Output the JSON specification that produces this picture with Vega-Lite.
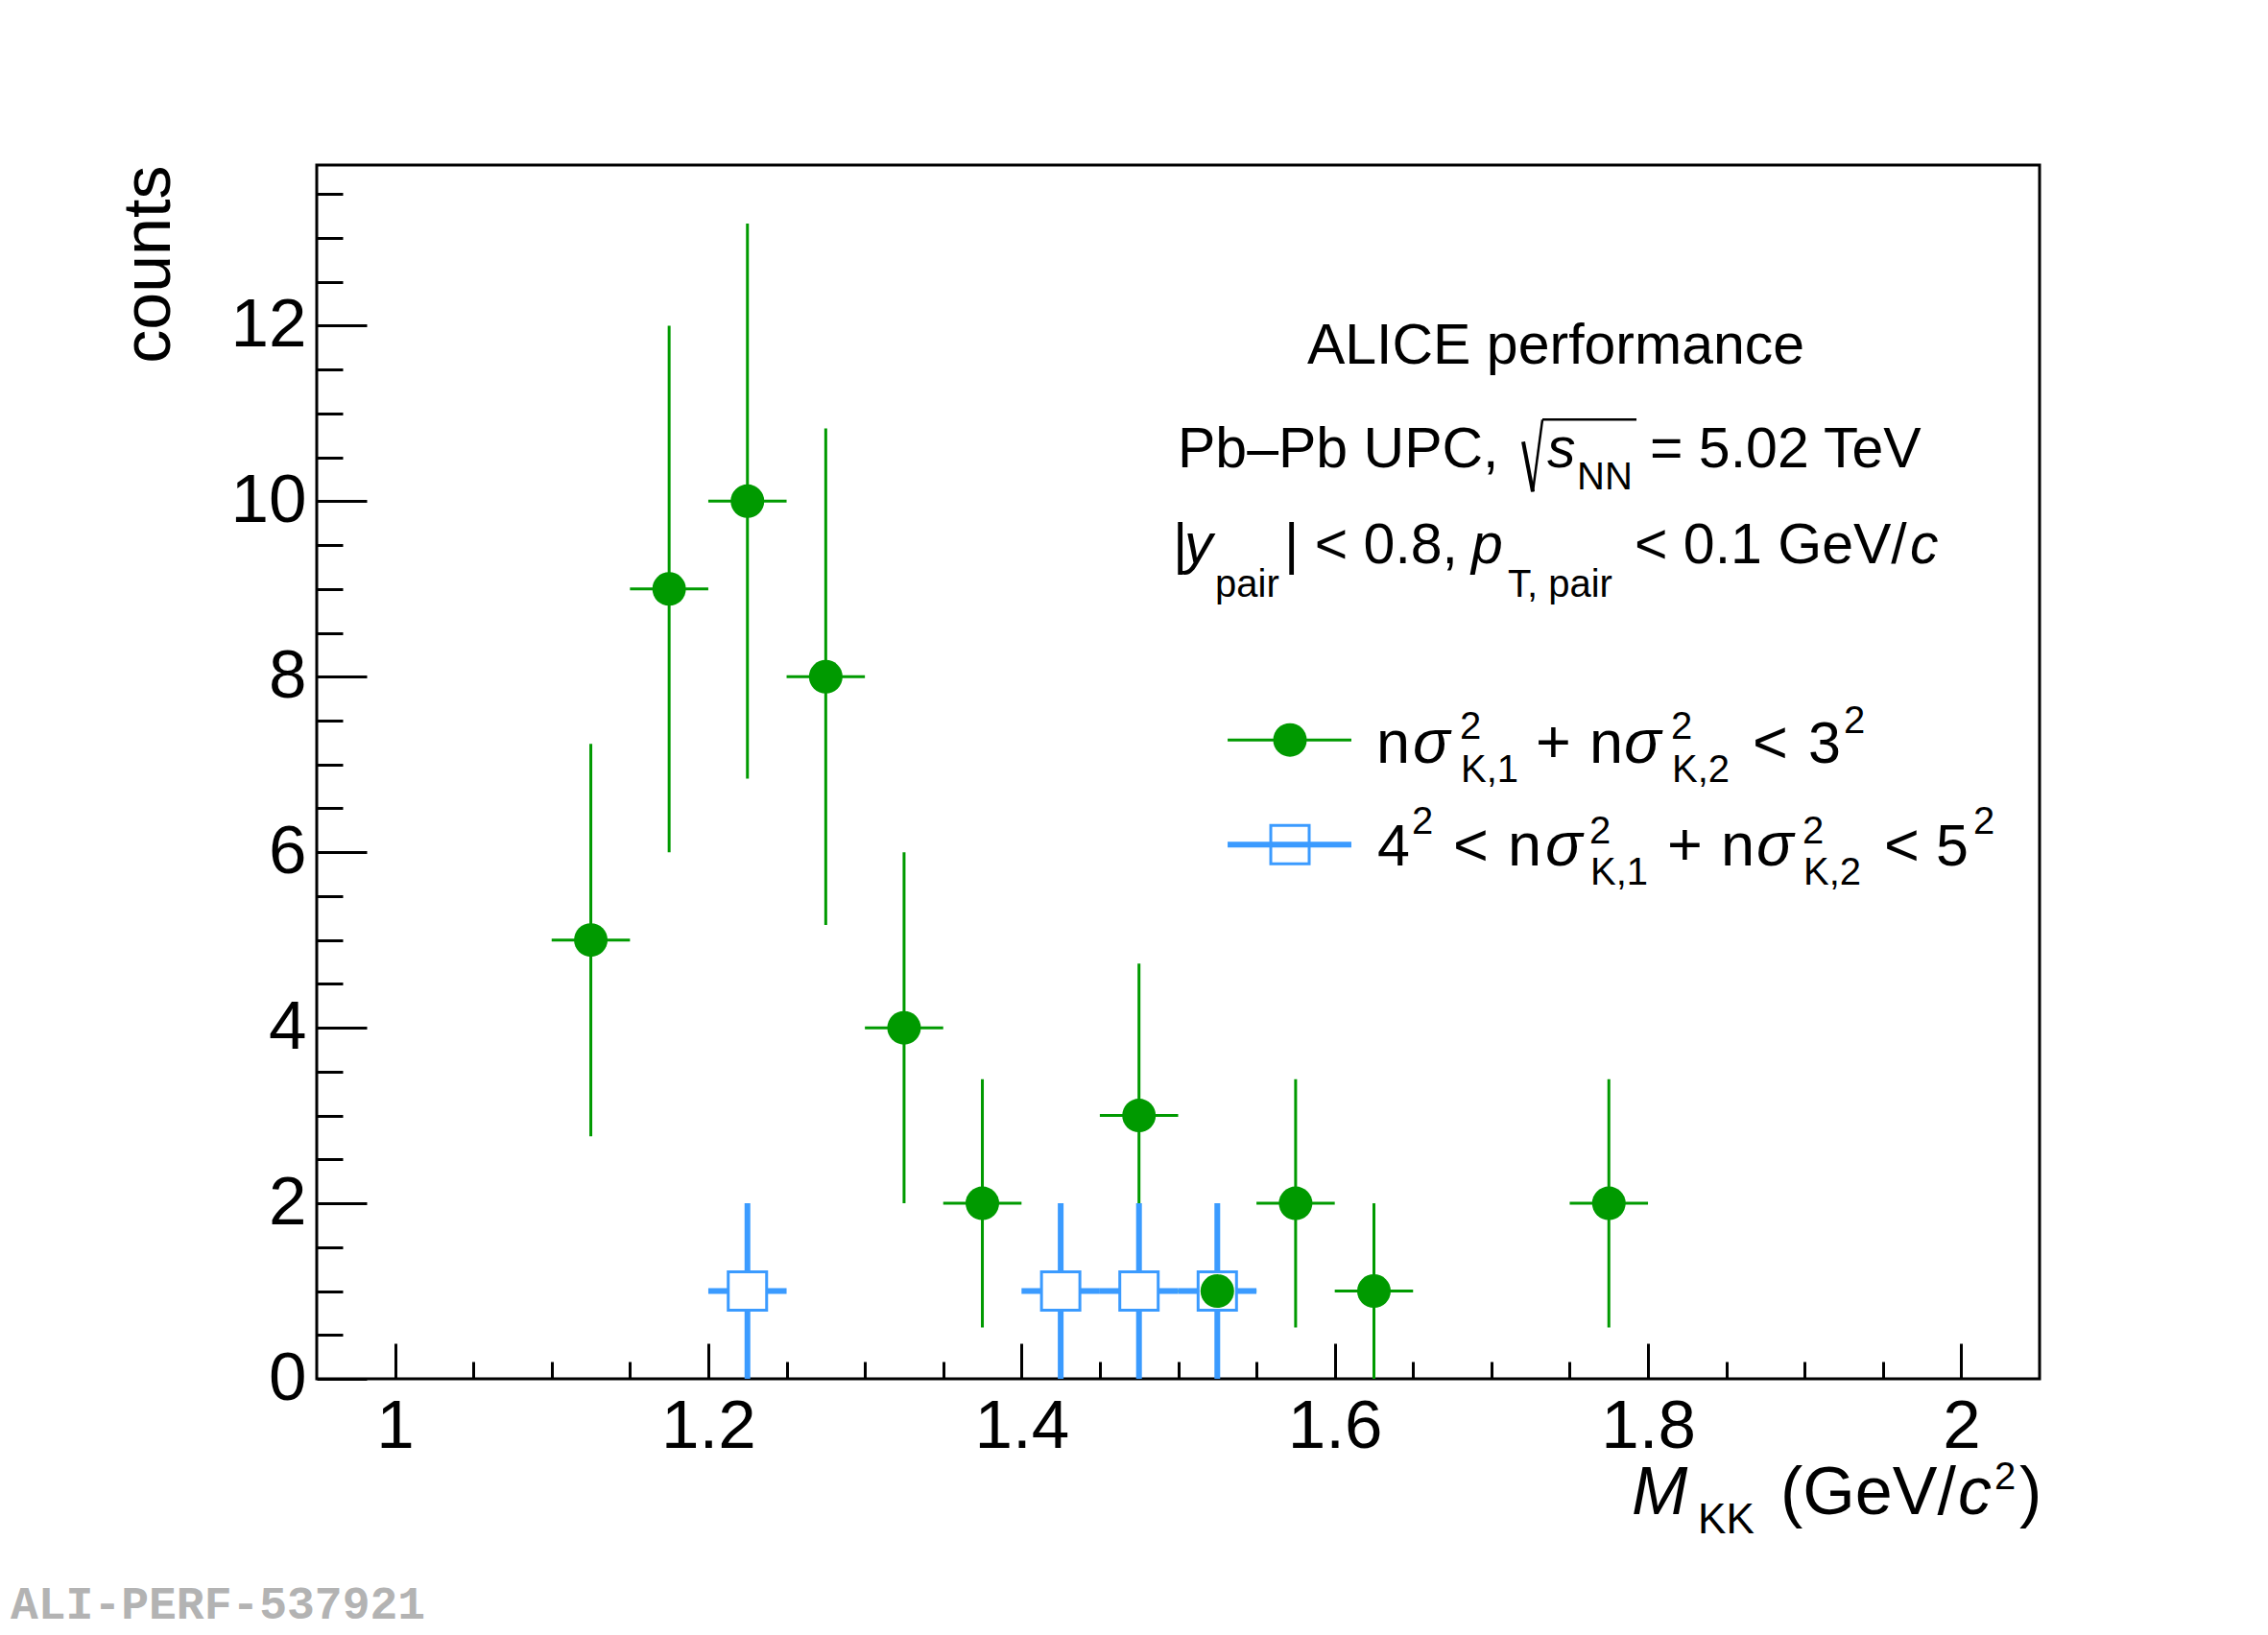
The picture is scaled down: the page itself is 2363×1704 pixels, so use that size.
{
  "$schema": "https://vega.github.io/schema/vega-lite/v6.json",
  "autosize": {"type": "none"},
  "width": 1795,
  "height": 1265,
  "padding": {"left": 330, "top": 172, "right": 238, "bottom": 267},
  "background": "white",
  "config": {"view": {"stroke": "black", "strokeWidth": 3}},
  "data": {"values": [{}]},
  "datasets": {
    "green": [
      {"m": 1.125, "mlo": 1.10, "mhi": 1.15, "count": 5, "lo": 2.764, "hi": 7.236},
      {"m": 1.175, "mlo": 1.15, "mhi": 1.20, "count": 9, "lo": 6.0, "hi": 12.0},
      {"m": 1.225, "mlo": 1.20, "mhi": 1.25, "count": 10, "lo": 6.838, "hi": 13.162},
      {"m": 1.275, "mlo": 1.25, "mhi": 1.30, "count": 8, "lo": 5.172, "hi": 10.828},
      {"m": 1.325, "mlo": 1.30, "mhi": 1.35, "count": 4, "lo": 2.0, "hi": 6.0},
      {"m": 1.375, "mlo": 1.35, "mhi": 1.40, "count": 2, "lo": 0.586, "hi": 3.414},
      {"m": 1.475, "mlo": 1.45, "mhi": 1.50, "count": 3, "lo": 1.268, "hi": 4.732},
      {"m": 1.525, "mlo": 1.50, "mhi": 1.55, "count": 1, "lo": 0.0, "hi": 2.0},
      {"m": 1.575, "mlo": 1.55, "mhi": 1.60, "count": 2, "lo": 0.586, "hi": 3.414},
      {"m": 1.625, "mlo": 1.60, "mhi": 1.65, "count": 1, "lo": 0.0, "hi": 2.0},
      {"m": 1.775, "mlo": 1.75, "mhi": 1.80, "count": 2, "lo": 0.586, "hi": 3.414}
    ],
    "blue": [
      {"m": 1.225, "mlo": 1.20, "mhi": 1.25, "count": 1, "lo": 0.0, "hi": 2.0},
      {"m": 1.425, "mlo": 1.40, "mhi": 1.45, "count": 1, "lo": 0.0, "hi": 2.0},
      {"m": 1.475, "mlo": 1.45, "mhi": 1.50, "count": 1, "lo": 0.0, "hi": 2.0},
      {"m": 1.525, "mlo": 1.50, "mhi": 1.55, "count": 1, "lo": 0.0, "hi": 2.0}
    ]
  },
  "resolve": {"axis": {"x": "independent", "y": "independent"}},
  "layer": [
    {
      "data": {"name": "green"},
      "mark": {"type": "rule", "color": "#009a00", "strokeWidth": 3},
      "encoding": {
        "x": {"field": "mlo", "type": "quantitative", "scale": {"domain": [0.95, 2.05], "nice": false, "zero": false},
          "axis": {"orient": "bottom", "values": [1, 1.2, 1.4, 1.6, 1.8, 2], "labels": false, "ticks": true, "tickSize": -37, "tickWidth": 3, "tickColor": "black", "domain": false, "grid": false, "title": null}},
        "x2": {"field": "mhi"},
        "y": {"field": "count", "type": "quantitative", "scale": {"domain": [0, 13.83], "nice": false, "zero": false},
          "axis": {"orient": "left", "values": [0, 2, 4, 6, 8, 10, 12], "labels": false, "ticks": true, "tickSize": -52, "tickWidth": 3, "tickColor": "black", "domain": false, "grid": false, "title": null}}
      }
    },
    {
      "data": {"name": "green"},
      "mark": {"type": "rule", "color": "#009a00", "strokeWidth": 3},
      "encoding": {
        "x": {"field": "m", "type": "quantitative", "scale": {"domain": [0.95, 2.05], "nice": false, "zero": false},
          "axis": {"orient": "bottom", "values": [1.05, 1.1, 1.15, 1.25, 1.3, 1.35, 1.45, 1.5, 1.55, 1.65, 1.7, 1.75, 1.85, 1.9, 1.95], "labels": false, "ticks": true, "tickSize": -18, "tickWidth": 3, "tickColor": "black", "domain": false, "grid": false, "title": null}},
        "y": {"field": "lo", "type": "quantitative", "scale": {"domain": [0, 13.83], "nice": false, "zero": false},
          "axis": {"orient": "left", "values": [0.5, 1, 1.5, 2.5, 3, 3.5, 4.5, 5, 5.5, 6.5, 7, 7.5, 8.5, 9, 9.5, 10.5, 11, 11.5, 12.5, 13, 13.5], "labels": false, "ticks": true, "tickSize": -27, "tickWidth": 3, "tickColor": "black", "domain": false, "grid": false, "title": null}},
        "y2": {"field": "hi"}
      }
    },
    {
      "data": {"name": "blue"},
      "mark": {"type": "rule", "color": "#3b9bff", "strokeWidth": 6},
      "encoding": {
        "x": {"field": "mlo", "type": "quantitative", "scale": {"domain": [0.95, 2.05], "nice": false, "zero": false},
          "axis": {"orient": "bottom", "values": [1, 1.2, 1.4, 1.6, 1.8, 2], "ticks": false, "domain": false, "grid": false, "title": null, "format": "~g", "labelFont": "Liberation Sans", "labelFontSize": 71, "labelColor": "black", "labelPadding": 15, "labelBaseline": "top", "labelFlush": false, "labelOverlap": false}},
        "x2": {"field": "mhi"},
        "y": {"field": "count", "type": "quantitative", "scale": {"domain": [0, 13.83], "nice": false, "zero": false},
          "axis": {"orient": "left", "values": [0, 2, 4, 6, 8, 10, 12], "ticks": false, "domain": false, "grid": false, "format": "~g", "labelFont": "Liberation Sans", "labelFontSize": 71, "labelColor": "black", "labelPadding": 11, "labelFlush": false, "labelOverlap": false,
            "title": "counts", "titleFont": "Liberation Sans", "titleFontSize": 70, "titleFontWeight": "normal", "titleColor": "black", "titleAngle": 270, "titleAlign": "right", "titleBaseline": "alphabetic", "titleX": -154, "titleY": 0}}
      }
    },
    {
      "data": {"name": "blue"},
      "mark": {"type": "rule", "color": "#3b9bff", "strokeWidth": 6},
      "encoding": {
        "x": {"field": "m", "type": "quantitative", "scale": {"domain": [0.95, 2.05]}, "axis": null},
        "y": {"field": "lo", "type": "quantitative", "scale": {"domain": [0, 13.83]}, "axis": null},
        "y2": {"field": "hi"}
      }
    },
    {
      "data": {"name": "blue"},
      "mark": {"type": "point", "shape": "square", "filled": true, "fill": "white", "stroke": "#3b9bff", "strokeWidth": 3, "size": 1600, "opacity": 1},
      "encoding": {
        "x": {"field": "m", "type": "quantitative", "scale": {"domain": [0.95, 2.05]}, "axis": null},
        "y": {"field": "count", "type": "quantitative", "scale": {"domain": [0, 13.83]}, "axis": null}
      }
    },
    {
      "data": {"name": "green"},
      "mark": {"type": "point", "shape": "circle", "filled": true, "color": "#009a00", "strokeWidth": 0, "size": 1225, "opacity": 1},
      "encoding": {
        "x": {"field": "m", "type": "quantitative", "scale": {"domain": [0.95, 2.05]}, "axis": null},
        "y": {"field": "count", "type": "quantitative", "scale": {"domain": [0, 13.83]}, "axis": null}
      }
    },
    {
      "mark": {"type": "rule", "color": "#009a00", "strokeWidth": 3},
      "encoding": {
        "x": {"datum": 1.5316, "type": "quantitative", "axis": null},
        "x2": {"datum": 1.6106},
        "y": {"datum": 7.279, "type": "quantitative", "axis": null}
      }
    },
    {
      "mark": {"type": "point", "shape": "circle", "filled": true, "color": "#009a00", "strokeWidth": 0, "size": 1225, "opacity": 1},
      "encoding": {
        "x": {"datum": 1.5714, "type": "quantitative", "axis": null},
        "y": {"datum": 7.279, "type": "quantitative", "axis": null}
      }
    },
    {
      "mark": {"type": "rule", "color": "#3b9bff", "strokeWidth": 6},
      "encoding": {
        "x": {"datum": 1.5316, "type": "quantitative", "axis": null},
        "x2": {"datum": 1.6106},
        "y": {"datum": 6.087, "type": "quantitative", "axis": null}
      }
    },
    {
      "mark": {"type": "point", "shape": "square", "filled": false, "stroke": "#3b9bff", "strokeWidth": 3, "size": 1600, "opacity": 1},
      "encoding": {
        "x": {"datum": 1.5714, "type": "quantitative", "axis": null},
        "y": {"datum": 6.087, "type": "quantitative", "axis": null}
      }
    },
    {
      "mark": {"type": "rule", "color": "black", "strokeWidth": 4},
      "encoding": {
        "x": {"datum": 1.72032, "type": "quantitative", "axis": null},
        "x2": {"datum": 1.72644},
        "y": {"datum": 10.678, "type": "quantitative", "axis": null},
        "y2": {"datum": 10.109}
      }
    },
    {
      "mark": {"type": "rule", "color": "black", "strokeWidth": 2.5},
      "encoding": {
        "x": {"datum": 1.72644, "type": "quantitative", "axis": null},
        "x2": {"datum": 1.73257},
        "y": {"datum": 10.109, "type": "quantitative", "axis": null},
        "y2": {"datum": 10.929}
      }
    },
    {
      "mark": {"type": "rule", "color": "black", "strokeWidth": 2.5},
      "encoding": {
        "x": {"datum": 1.73257, "type": "quantitative", "axis": null},
        "x2": {"datum": 1.79263},
        "y": {"datum": 10.929, "type": "quantitative", "axis": null}
      }
    },
    {"mark": {"type": "text", "text": "ALICE performance", "font": "Liberation Sans", "fontSize": 59, "align": "center", "baseline": "alphabetic", "color": "black"},
     "encoding": {"x": {"datum": 1.74115, "type": "quantitative", "axis": null}, "y": {"datum": 11.563, "type": "quantitative", "axis": null}}},
    {"mark": {"type": "text", "text": "Pb–Pb UPC,", "font": "Liberation Sans", "fontSize": 59, "align": "left", "baseline": "alphabetic", "color": "black"},
     "encoding": {"x": {"datum": 1.4997, "type": "quantitative", "axis": null}, "y": {"datum": 10.383, "type": "quantitative", "axis": null}}},
    {"mark": {"type": "text", "text": "s", "font": "Liberation Sans", "fontSize": 59, "fontStyle": "italic", "align": "left", "baseline": "alphabetic", "color": "black"},
     "encoding": {"x": {"datum": 1.73564, "type": "quantitative", "axis": null}, "y": {"datum": 10.383, "type": "quantitative", "axis": null}}},
    {"mark": {"type": "text", "text": "NN", "font": "Liberation Sans", "fontSize": 40, "align": "left", "baseline": "alphabetic", "color": "black"},
     "encoding": {"x": {"datum": 1.75464, "type": "quantitative", "axis": null}, "y": {"datum": 10.131, "type": "quantitative", "axis": null}}},
    {"mark": {"type": "text", "text": "= 5.02 TeV", "font": "Liberation Sans", "fontSize": 59, "align": "left", "baseline": "alphabetic", "color": "black"},
     "encoding": {"x": {"datum": 1.80121, "type": "quantitative", "axis": null}, "y": {"datum": 10.383, "type": "quantitative", "axis": null}}},
    {"mark": {"type": "text", "text": "|", "font": "Liberation Sans", "fontSize": 59, "align": "left", "baseline": "alphabetic", "color": "black"},
     "encoding": {"x": {"datum": 1.49664, "type": "quantitative", "axis": null}, "y": {"datum": 9.2896, "type": "quantitative", "axis": null}}},
    {"mark": {"type": "text", "text": "y", "font": "Liberation Sans", "fontSize": 59, "fontStyle": "italic", "align": "left", "baseline": "alphabetic", "color": "black"},
     "encoding": {"x": {"datum": 1.50399, "type": "quantitative", "axis": null}, "y": {"datum": 9.2896, "type": "quantitative", "axis": null}}},
    {"mark": {"type": "text", "text": "pair", "font": "Liberation Sans", "fontSize": 40, "align": "left", "baseline": "alphabetic", "color": "black"},
     "encoding": {"x": {"datum": 1.5236, "type": "quantitative", "axis": null}, "y": {"datum": 8.907, "type": "quantitative", "axis": null}}},
    {"mark": {"type": "text", "text": "| < 0.8,", "font": "Liberation Sans", "fontSize": 59, "align": "left", "baseline": "alphabetic", "color": "black"},
     "encoding": {"x": {"datum": 1.56772, "type": "quantitative", "axis": null}, "y": {"datum": 9.2896, "type": "quantitative", "axis": null}}},
    {"mark": {"type": "text", "text": "p", "font": "Liberation Sans", "fontSize": 59, "fontStyle": "italic", "align": "left", "baseline": "alphabetic", "color": "black"},
     "encoding": {"x": {"datum": 1.68722, "type": "quantitative", "axis": null}, "y": {"datum": 9.2896, "type": "quantitative", "axis": null}}},
    {"mark": {"type": "text", "text": "T, pair", "font": "Liberation Sans", "fontSize": 40, "align": "left", "baseline": "alphabetic", "color": "black"},
     "encoding": {"x": {"datum": 1.71051, "type": "quantitative", "axis": null}, "y": {"datum": 8.907, "type": "quantitative", "axis": null}}},
    {"mark": {"type": "text", "text": "< 0.1 GeV/", "font": "Liberation Sans", "fontSize": 59, "align": "left", "baseline": "alphabetic", "color": "black"},
     "encoding": {"x": {"datum": 1.7914, "type": "quantitative", "axis": null}, "y": {"datum": 9.2896, "type": "quantitative", "axis": null}}},
    {"mark": {"type": "text", "text": "c", "font": "Liberation Sans", "fontSize": 59, "fontStyle": "italic", "align": "left", "baseline": "alphabetic", "color": "black"},
     "encoding": {"x": {"datum": 1.96728, "type": "quantitative", "axis": null}, "y": {"datum": 9.2896, "type": "quantitative", "axis": null}}},

    {"mark": {"type": "text", "text": "n", "font": "Liberation Sans", "fontSize": 63, "align": "left", "baseline": "alphabetic", "color": "black"},
     "encoding": {"x": {"datum": 1.62655, "type": "quantitative", "axis": null}, "y": {"datum": 7.0164, "type": "quantitative", "axis": null}}},
    {"mark": {"type": "text", "text": "σ", "font": "Liberation Sans", "fontSize": 64, "fontStyle": "italic", "align": "left", "baseline": "alphabetic", "color": "black"},
     "encoding": {"x": {"datum": 1.64984, "type": "quantitative", "axis": null}, "y": {"datum": 7.0164, "type": "quantitative", "axis": null}}},
    {"mark": {"type": "text", "text": "2", "font": "Liberation Sans", "fontSize": 40, "align": "left", "baseline": "alphabetic", "color": "black"},
     "encoding": {"x": {"datum": 1.67987, "type": "quantitative", "axis": null}, "y": {"datum": 7.2896, "type": "quantitative", "axis": null}}},
    {"mark": {"type": "text", "text": "K,1", "font": "Liberation Sans", "fontSize": 40, "align": "left", "baseline": "alphabetic", "color": "black"},
     "encoding": {"x": {"datum": 1.68048, "type": "quantitative", "axis": null}, "y": {"datum": 6.798, "type": "quantitative", "axis": null}}},
    {"mark": {"type": "text", "text": "+", "font": "Liberation Sans", "fontSize": 63, "align": "left", "baseline": "alphabetic", "color": "black"},
     "encoding": {"x": {"datum": 1.72828, "type": "quantitative", "axis": null}, "y": {"datum": 7.0164, "type": "quantitative", "axis": null}}},
    {"mark": {"type": "text", "text": "n", "font": "Liberation Sans", "fontSize": 63, "align": "left", "baseline": "alphabetic", "color": "black"},
     "encoding": {"x": {"datum": 1.7626, "type": "quantitative", "axis": null}, "y": {"datum": 7.0164, "type": "quantitative", "axis": null}}},
    {"mark": {"type": "text", "text": "σ", "font": "Liberation Sans", "fontSize": 64, "fontStyle": "italic", "align": "left", "baseline": "alphabetic", "color": "black"},
     "encoding": {"x": {"datum": 1.78466, "type": "quantitative", "axis": null}, "y": {"datum": 7.0164, "type": "quantitative", "axis": null}}},
    {"mark": {"type": "text", "text": "2", "font": "Liberation Sans", "fontSize": 40, "align": "left", "baseline": "alphabetic", "color": "black"},
     "encoding": {"x": {"datum": 1.81469, "type": "quantitative", "axis": null}, "y": {"datum": 7.2896, "type": "quantitative", "axis": null}}},
    {"mark": {"type": "text", "text": "K,2", "font": "Liberation Sans", "fontSize": 40, "align": "left", "baseline": "alphabetic", "color": "black"},
     "encoding": {"x": {"datum": 1.8153, "type": "quantitative", "axis": null}, "y": {"datum": 6.798, "type": "quantitative", "axis": null}}},
    {"mark": {"type": "text", "text": "<", "font": "Liberation Sans", "fontSize": 63, "align": "left", "baseline": "alphabetic", "color": "black"},
     "encoding": {"x": {"datum": 1.86678, "type": "quantitative", "axis": null}, "y": {"datum": 7.0164, "type": "quantitative", "axis": null}}},
    {"mark": {"type": "text", "text": "3", "font": "Liberation Sans", "fontSize": 61, "align": "left", "baseline": "alphabetic", "color": "black"},
     "encoding": {"x": {"datum": 1.90232, "type": "quantitative", "axis": null}, "y": {"datum": 7.0164, "type": "quantitative", "axis": null}}},
    {"mark": {"type": "text", "text": "2", "font": "Liberation Sans", "fontSize": 40, "align": "left", "baseline": "alphabetic", "color": "black"},
     "encoding": {"x": {"datum": 1.925, "type": "quantitative", "axis": null}, "y": {"datum": 7.355, "type": "quantitative", "axis": null}}},

    {"mark": {"type": "text", "text": "4", "font": "Liberation Sans", "fontSize": 61, "align": "left", "baseline": "alphabetic", "color": "black"},
     "encoding": {"x": {"datum": 1.62716, "type": "quantitative", "axis": null}, "y": {"datum": 5.847, "type": "quantitative", "axis": null}}},
    {"mark": {"type": "text", "text": "2", "font": "Liberation Sans", "fontSize": 40, "align": "left", "baseline": "alphabetic", "color": "black"},
     "encoding": {"x": {"datum": 1.64923, "type": "quantitative", "axis": null}, "y": {"datum": 6.208, "type": "quantitative", "axis": null}}},
    {"mark": {"type": "text", "text": "<", "font": "Liberation Sans", "fontSize": 63, "align": "left", "baseline": "alphabetic", "color": "black"},
     "encoding": {"x": {"datum": 1.67558, "type": "quantitative", "axis": null}, "y": {"datum": 5.847, "type": "quantitative", "axis": null}}},
    {"mark": {"type": "text", "text": "n", "font": "Liberation Sans", "fontSize": 63, "align": "left", "baseline": "alphabetic", "color": "black"},
     "encoding": {"x": {"datum": 1.71051, "type": "quantitative", "axis": null}, "y": {"datum": 5.847, "type": "quantitative", "axis": null}}},
    {"mark": {"type": "text", "text": "σ", "font": "Liberation Sans", "fontSize": 64, "fontStyle": "italic", "align": "left", "baseline": "alphabetic", "color": "black"},
     "encoding": {"x": {"datum": 1.73441, "type": "quantitative", "axis": null}, "y": {"datum": 5.847, "type": "quantitative", "axis": null}}},
    {"mark": {"type": "text", "text": "2", "font": "Liberation Sans", "fontSize": 40, "align": "left", "baseline": "alphabetic", "color": "black"},
     "encoding": {"x": {"datum": 1.7626, "type": "quantitative", "axis": null}, "y": {"datum": 6.098, "type": "quantitative", "axis": null}}},
    {"mark": {"type": "text", "text": "K,1", "font": "Liberation Sans", "fontSize": 40, "align": "left", "baseline": "alphabetic", "color": "black"},
     "encoding": {"x": {"datum": 1.76321, "type": "quantitative", "axis": null}, "y": {"datum": 5.628, "type": "quantitative", "axis": null}}},
    {"mark": {"type": "text", "text": "+", "font": "Liberation Sans", "fontSize": 63, "align": "left", "baseline": "alphabetic", "color": "black"},
     "encoding": {"x": {"datum": 1.81224, "type": "quantitative", "axis": null}, "y": {"datum": 5.847, "type": "quantitative", "axis": null}}},
    {"mark": {"type": "text", "text": "n", "font": "Liberation Sans", "fontSize": 63, "align": "left", "baseline": "alphabetic", "color": "black"},
     "encoding": {"x": {"datum": 1.84656, "type": "quantitative", "axis": null}, "y": {"datum": 5.847, "type": "quantitative", "axis": null}}},
    {"mark": {"type": "text", "text": "σ", "font": "Liberation Sans", "fontSize": 64, "fontStyle": "italic", "align": "left", "baseline": "alphabetic", "color": "black"},
     "encoding": {"x": {"datum": 1.86923, "type": "quantitative", "axis": null}, "y": {"datum": 5.847, "type": "quantitative", "axis": null}}},
    {"mark": {"type": "text", "text": "2", "font": "Liberation Sans", "fontSize": 40, "align": "left", "baseline": "alphabetic", "color": "black"},
     "encoding": {"x": {"datum": 1.89865, "type": "quantitative", "axis": null}, "y": {"datum": 6.098, "type": "quantitative", "axis": null}}},
    {"mark": {"type": "text", "text": "K,2", "font": "Liberation Sans", "fontSize": 40, "align": "left", "baseline": "alphabetic", "color": "black"},
     "encoding": {"x": {"datum": 1.89926, "type": "quantitative", "axis": null}, "y": {"datum": 5.628, "type": "quantitative", "axis": null}}},
    {"mark": {"type": "text", "text": "<", "font": "Liberation Sans", "fontSize": 63, "align": "left", "baseline": "alphabetic", "color": "black"},
     "encoding": {"x": {"datum": 1.95074, "type": "quantitative", "axis": null}, "y": {"datum": 5.847, "type": "quantitative", "axis": null}}},
    {"mark": {"type": "text", "text": "5", "font": "Liberation Sans", "fontSize": 61, "align": "left", "baseline": "alphabetic", "color": "black"},
     "encoding": {"x": {"datum": 1.98383, "type": "quantitative", "axis": null}, "y": {"datum": 5.847, "type": "quantitative", "axis": null}}},
    {"mark": {"type": "text", "text": "2", "font": "Liberation Sans", "fontSize": 40, "align": "left", "baseline": "alphabetic", "color": "black"},
     "encoding": {"x": {"datum": 2.00773, "type": "quantitative", "axis": null}, "y": {"datum": 6.208, "type": "quantitative", "axis": null}}},

    {"mark": {"type": "text", "text": "M", "font": "Liberation Sans", "fontSize": 70, "fontStyle": "italic", "align": "left", "baseline": "alphabetic", "color": "black"},
     "encoding": {"x": {"datum": 1.78956, "type": "quantitative", "axis": null}, "y": {"datum": -1.541, "type": "quantitative", "axis": null}}},
    {"mark": {"type": "text", "text": "KK", "font": "Liberation Sans", "fontSize": 44, "align": "left", "baseline": "alphabetic", "color": "black"},
     "encoding": {"x": {"datum": 1.83186, "type": "quantitative", "axis": null}, "y": {"datum": -1.76, "type": "quantitative", "axis": null}}},
    {"mark": {"type": "text", "text": "(GeV/", "font": "Liberation Sans", "fontSize": 70, "align": "left", "baseline": "alphabetic", "color": "black"},
     "encoding": {"x": {"datum": 1.88455, "type": "quantitative", "axis": null}, "y": {"datum": -1.541, "type": "quantitative", "axis": null}}},
    {"mark": {"type": "text", "text": "c", "font": "Liberation Sans", "fontSize": 70, "fontStyle": "italic", "align": "left", "baseline": "alphabetic", "color": "black"},
     "encoding": {"x": {"datum": 1.99792, "type": "quantitative", "axis": null}, "y": {"datum": -1.541, "type": "quantitative", "axis": null}}},
    {"mark": {"type": "text", "text": "2", "font": "Liberation Sans", "fontSize": 40, "align": "left", "baseline": "alphabetic", "color": "black"},
     "encoding": {"x": {"datum": 2.02121, "type": "quantitative", "axis": null}, "y": {"datum": -1.257, "type": "quantitative", "axis": null}}},
    {"mark": {"type": "text", "text": ")", "font": "Liberation Sans", "fontSize": 70, "align": "left", "baseline": "alphabetic", "color": "black"},
     "encoding": {"x": {"datum": 2.03713, "type": "quantitative", "axis": null}, "y": {"datum": -1.541, "type": "quantitative", "axis": null}}},
    {"mark": {"type": "text", "text": "ALI-PERF-537921", "font": "Liberation Mono", "fontSize": 48, "fontWeight": "bold", "align": "left", "baseline": "alphabetic", "color": "#b3b3b3"},
     "encoding": {"x": {"datum": 0.75451, "type": "quantitative", "axis": null}, "y": {"datum": -2.732, "type": "quantitative", "axis": null}}}
  ]
}
